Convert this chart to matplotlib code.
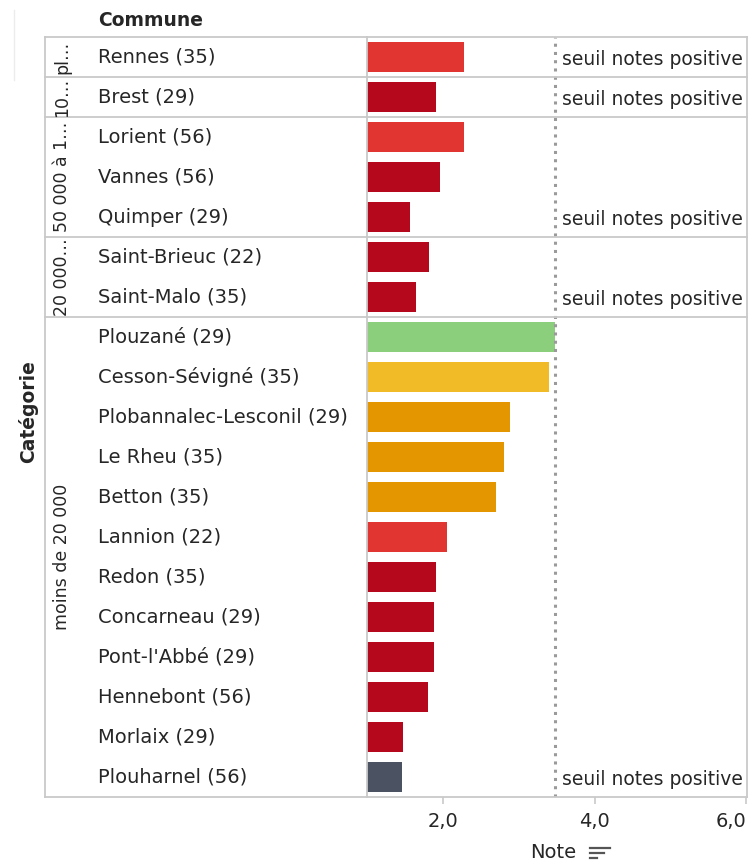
"""Notes des communes bretonnes par catégorie de population (barres horizontales)."""

import matplotlib

matplotlib.use("Agg")
import matplotlib.pyplot as plt
from matplotlib.lines import Line2D
from matplotlib.transforms import blended_transform_factory

communes = [
    "Rennes (35)", "Brest (29)", "Lorient (56)", "Vannes (56)", "Quimper (29)",
    "Saint-Brieuc (22)", "Saint-Malo (35)", "Plouzané (29)", "Cesson-Sévigné (35)",
    "Plobannalec-Lesconil (29)", "Le Rheu (35)", "Betton (35)", "Lannion (22)",
    "Redon (35)", "Concarneau (29)", "Pont-l'Abbé (29)", "Hennebont (56)",
    "Morlaix (29)", "Plouharnel (56)",
]
categories = ["pl…", "10…", "50 000 à 1…", "20 000…", "moins de 20 000"]
category_sizes = [1, 1, 3, 2, 12]
notes = [2.28, 1.91, 2.28, 1.96, 1.56, 1.82, 1.64, 3.48, 3.40, 2.88, 2.80,
         2.70, 2.06, 1.91, 1.88, 1.88, 1.80, 1.48, 1.46]
classes = ["rouge", "bordeaux", "rouge", "bordeaux", "bordeaux", "bordeaux",
           "bordeaux", "vert", "jaune", "orange", "orange", "orange", "rouge",
           "bordeaux", "bordeaux", "bordeaux", "bordeaux", "bordeaux", "gris"]
seuil = 3.48
x_ticks = [2.0, 4.0, 6.0]
x_tick_labels = ["2,0", "4,0", "6,0"]

palette = {
    "rouge": "#e13532",
    "bordeaux": "#b5081d",
    "vert": "#8bcf7c",
    "jaune": "#f0bb27",
    "orange": "#e39600",
    "gris": "#4b5261",
}
TXT = "#262626"
GRID = "#c9c9c9"

W, H = 748, 864
fig = plt.figure(figsize=(W / 100, H / 100), dpi=100)


def fx(p):
    return p / W


def fy(p):
    return 1 - p / H


ax = fig.add_axes([fx(367), fy(797), fx(748) - fx(367), fy(37) - fy(797)])
n = len(communes)
rows = list(range(n))
ax.barh(rows, notes, height=0.74, color=[palette[c] for c in classes], zorder=2)
ax.set_xlim(1.0, 6.02)
ax.set_ylim(n - 0.5, -0.5)
ax.axvline(seuil, color="#9a9a9a", lw=2.2, ls=(0, (1, 1.7)), zorder=3)

# label of the reference line, in the last row of each category
last_rows = []
acc = 0
for size in category_sizes:
    acc += size
    last_rows.append(acc - 1)
for r in last_rows:
    ax.text(seuil + 0.09, r + 0.06, "seuil notes positive", fontsize=13.5,
            color=TXT, ha="left", va="center", clip_on=True, zorder=4)

for s in ax.spines.values():
    s.set_visible(False)
ax.set_yticks([])
ax.set_xticks(x_ticks, x_tick_labels)
ax.tick_params(axis="x", length=5, width=1.2, color=GRID, pad=6,
               labelsize=14, labelcolor=TXT)
ax.get_xticklabels()[-1].set_horizontalalignment("right")

# row labels and category labels on the left
tr = blended_transform_factory(fig.transFigure, ax.transData)
for r, name in zip(rows, communes):
    fig.text(fx(98), r, name, transform=tr, fontsize=14, color=TXT,
             ha="left", va="center")

start = 0
bounds = [-0.5]
for cat, size in zip(categories, category_sizes):
    mid = start + (size - 1) / 2
    fig.text(fx(62), mid, cat, transform=tr, rotation=90, fontsize=12.5,
             color=TXT, ha="center", va="center")
    start += size
    bounds.append(start - 0.5)

for b in bounds:
    fig.add_artist(Line2D([fx(45), fx(748)], [b, b], transform=tr,
                          color=GRID, lw=1.3))
for xp in (45, 367, 747):
    fig.add_artist(Line2D([fx(xp), fx(xp)], [-0.5, n - 0.5], transform=tr,
                          color=GRID, lw=1.3))
fig.add_artist(Line2D([fx(14), fx(14)], [fy(10), fy(80)],
                      transform=fig.transFigure, color="#ececec", lw=1))

fig.text(fx(98), fy(20), "Commune", fontsize=13.5, fontweight="bold",
         color=TXT, ha="left", va="center")
fig.text(fx(28), fy(412), "Catégorie", fontsize=13.5, fontweight="bold",
         color=TXT, ha="center", va="center", rotation=90)

fig.text(fx(553), fy(853), "Note", fontsize=14, color=TXT,
         ha="center", va="center")
for yp, w in ((848, 20), (853, 14), (858, 7)):
    fig.add_artist(Line2D([fx(590), fx(590 + w)], [fy(yp), fy(yp)],
                          transform=fig.transFigure, color="#555555", lw=1.6))

fig.savefig("out.png", dpi=100, facecolor="white")
